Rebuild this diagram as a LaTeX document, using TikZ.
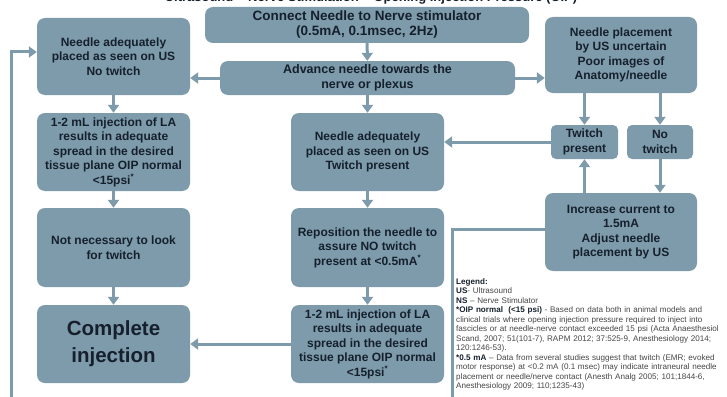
\documentclass[tikz,border=0pt]{standalone}
\usepackage{fontspec}
\setmainfont{Liberation Sans}
\usetikzlibrary{arrows.meta}
\definecolor{boxc}{RGB}{125,155,171}
\definecolor{txtc}{RGB}{22,32,45}
\definecolor{legc}{RGB}{70,70,70}
\newcommand{\legline}[1]{\hbox to \linewidth{#1}}
\newcommand{\legb}[1]{{\color{txtc}\bfseries #1}}
\hbadness=10000
\begin{document}
\begin{tikzpicture}[x=1pt,y=-1pt,
  box/.style={fill=boxc, rounded corners=8pt, align=center, text=txtc,
    font=\bfseries\fontsize{12}{14.5}\selectfont, inner sep=0pt},
  colw/.style={minimum width=153pt},
  arr/.style={draw=boxc, line width=3pt, -{Triangle[width=11pt,length=8pt]}}
]
\useasboundingbox (0,0) rectangle (727,396);
\fill[white] (0,0) rectangle (727,396);

% title, cut off at the top edge as in the reference
\node[anchor=base, font=\bfseries\fontsize{13}{15}\selectfont, text=txtc, inner sep=0pt] (title) at (371,2)
  {Ultrasound + Nerve Stimulation + Opening Injection Pressure (OIP)};

% nodes
\node[box, minimum width=324pt, minimum height=36pt, font=\bfseries\fontsize{13.5}{15}\selectfont] (cnx) at (367,25)
  {Connect Needle to Nerve stimulator\\(0.5mA, 0.1msec, 2Hz)};
\node[box, colw, minimum height=77pt] (ntl) at (113.5,56.5)
  {Needle adequately\\placed as seen on US\\No twitch};
\node[box, minimum width=152pt, minimum height=76pt] (unc) at (621,55)
  {Needle placement\\by US uncertain\\Poor images of\\Anatomy/needle};
\node[box, minimum width=295pt, minimum height=34pt, font=\bfseries\fontsize{12.5}{15}\selectfont] (adv) at (367.5,78)
  {Advance needle towards the\\nerve or plexus};
\node[box, colw, minimum height=78pt] (lla) at (113.5,152)
  {1-2 mL injection of LA\\results in adequate\\spread in the desired\\tissue plane OIP normal\\<15psi\textsuperscript{*}};
\node[box, colw, minimum height=78pt] (ctw) at (367.5,152)
  {Needle adequately\\placed as seen on US\\Twitch present};
\node[box, minimum width=67pt, minimum height=34pt, rounded corners=5pt] (tp) at (584.5,142)
  {Twitch\\present};
\node[box, minimum width=66pt, minimum height=34pt, rounded corners=5pt] (nt) at (660,142)
  {No\\twitch};
\node[box, colw, minimum height=79pt] (nnl) at (113.5,247.5)
  {Not necessary to look\\for twitch};
\node[box, colw, minimum height=79pt] (rep) at (367.5,247.5)
  {Reposition the needle to\\assure NO twitch\\present at <0.5mA\textsuperscript{*}};
\node[box, minimum width=152pt, minimum height=78pt] (inc) at (621,232)
  {Increase current to\\1.5mA\\Adjust needle\\placement by US};
\node[box, colw, minimum height=78pt, font=\bfseries\fontsize{20.5}{27}\selectfont] (comp) at (113.5,344)
  {Complete\\injection};
\node[box, colw, minimum height=78pt] (cla) at (367.5,344)
  {1-2 mL injection of LA\\results in adequate\\spread in the desired\\tissue plane OIP normal\\<15psi\textsuperscript{*}};

% legend
\node[anchor=north west, text width=268pt, align=left, inner sep=0pt, text=legc,
  font=\fontsize{8.1}{9.5}\selectfont] (leg) at (456,278)
  {\legb{Legend:}\par
   \legb{US}- Ultrasound\par
   \legb{NS} -- Nerve Stimulator\par
   \legline{\legb{*OIP normal\ \ (<15 psi)} - Based on data both in animal models and}
   \legline{clinical trials where opening injection pressure required to inject into}
   \legline{fascicles or at needle-nerve contact exceeded 15 psi (Acta Anaesthesiol}
   \legline{Scand, 2007; 51(101-7), RAPM 2012; 37:525-9, Anesthesiology 2014;}
   120:1246-53).\par
   \legline{\legb{*0.5 mA} -- Data from several studies suggest that twitch (EMR; evoked}
   \legline{motor response) at <0.2 mA (0.1 msec) may indicate intraneural needle}
   \legline{placement or needle/nerve contact (Anesth Analg 2005; 101;1844-6,}
   Anesthesiology 2009; 110;1235-43)};

% connectors
\draw[arr] (cnx) -- (adv);
\draw[arr] (adv.west) -- (adv.west -| ntl.east);
\draw[arr] (adv.east) -- (adv.east -| unc.west);
\draw[arr] (adv) -- (ctw);
\draw[arr] (ntl) -- (lla);
\draw[arr] (lla) -- (nnl);
\draw[arr] (nnl) -- (comp);
\draw[arr] (ctw) -- (rep);
\draw[arr] (rep) -- (cla);
\draw[arr] (cla) -- (comp);
\draw[arr] (unc.south -| tp.north) -- (tp.north);
\draw[arr] (unc.south -| nt.north) -- (nt.north);
\draw[arr] (nt.south) -- (nt.south |- inc.north);
\draw[arr] (tp.south |- inc.north) -- (tp.south);
\draw[arr] (tp.west) -- (tp.west -| ctw.east);
\coordinate (lpA) at (452,229);
\coordinate (lpB) at (452,412);
\coordinate (lpC) at (11,412);
\coordinate (lpD) at (11,52);
\draw[arr, line join=miter] (inc.west |- lpA) -- (lpA) -- (lpB) -- (lpC) -- (lpD) -- (lpD -| ntl.west);
\end{tikzpicture}
\end{document}
